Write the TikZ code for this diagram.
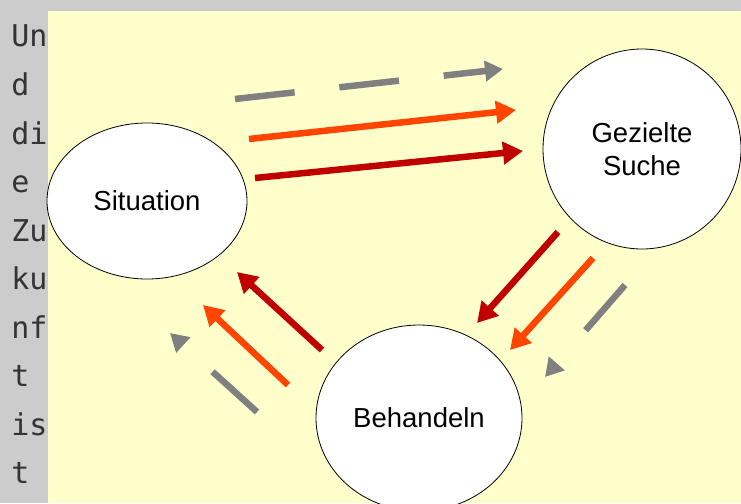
\documentclass[tikz,border=0pt]{standalone}
\usepackage{fontspec}
\setmainfont{Liberation Sans}
\newfontfamily\monofont{DejaVu Sans Mono}
\usepackage{xcolor}
\usepackage{tikz}
\usetikzlibrary{arrows.meta}
\usetikzlibrary{shapes.geometric}

\definecolor{stripgray}{RGB}{204,204,204}
\definecolor{paleyellow}{RGB}{255,255,204}
\definecolor{deepred}{RGB}{192,0,0}
\definecolor{brightorange}{RGB}{255,69,0}
\definecolor{hintgray}{RGB}{128,128,128}
\definecolor{wordgray}{RGB}{51,51,51}

\begin{document}
\begin{tikzpicture}[x=1pt,y=-1pt,line width=6.5pt]
		\tikzstyle{phase}=[ellipse, draw=black, line width=0.8pt, fill=white, inner sep=0pt, align=center, font=\fontsize{27.5}{33}\selectfont]
		\tikzstyle{word}=[anchor=base west, inner sep=0pt, text=wordgray, font=\monofont\fontsize{30}{36}\selectfont]
		\tikzstyle{flow}=[-{Triangle[length=20pt,width=22pt]}]
		\tikzstyle{hint}=[hintgray, dash pattern=on 60pt off 45pt, -{Triangle[length=18pt,width=20pt]}]

		\useasboundingbox (0,0) rectangle (741,503);
		\clip (0,0) rectangle (741,503);
		\fill[stripgray] (0,0) rectangle (741,503);
		\fill[paleyellow] (48,11) rectangle (741,503);

		\foreach \w [count=\i from 0] in {Un,d,di,e,Zu,ku,nf,t,is,t}
			\node[word] (word\i) at (8,47+48.5*\i) {\w};

		\node[phase, minimum width=200pt, minimum height=156pt] (S) at (147,201) {Situation};
		\node[phase, minimum width=198pt, minimum height=200pt] (G) at (642,149) {Gezielte\\Suche};
		\node[phase, minimum width=206pt, minimum height=186pt] (B) at (419,418) {Behandeln};

		% Situation -> Gezielte Suche
		\coordinate (sgH1) at (235,99);  \coordinate (sgH2) at (503,69);
		\coordinate (sgO1) at (249,139); \coordinate (sgO2) at (516,110);
		\coordinate (sgR1) at (255,178); \coordinate (sgR2) at (523,151);
		% Gezielte Suche -> Behandeln
		\coordinate (gbR1) at (558,232); \coordinate (gbR2) at (477,323);
		\coordinate (gbO1) at (593,258); \coordinate (gbO2) at (510,350);
		\coordinate (gbH1) at (625,285); \coordinate (gbH2) at (545,377);
		% Behandeln -> Situation
		\coordinate (bsR1) at (322,350); \coordinate (bsR2) at (237,272);
		\coordinate (bsO1) at (288,385); \coordinate (bsO2) at (203,305);
		\coordinate (bsH1) at (257,412); \coordinate (bsH2) at (170,333);

		\draw[hint] (sgH1) -- (sgH2);
		\draw[flow, brightorange] (sgO1) -- (sgO2);
		\draw[flow, deepred] (sgR1) -- (sgR2);

		\draw[flow, deepred] (gbR1) -- (gbR2);
		\draw[flow, brightorange] (gbO1) -- (gbO2);
		\draw[hint] (gbH1) -- (gbH2);

		\draw[flow, deepred] (bsR1) -- (bsR2);
		\draw[flow, brightorange] (bsO1) -- (bsO2);
		\draw[hint] (bsH1) -- (bsH2);

\end{tikzpicture}
\end{document}
